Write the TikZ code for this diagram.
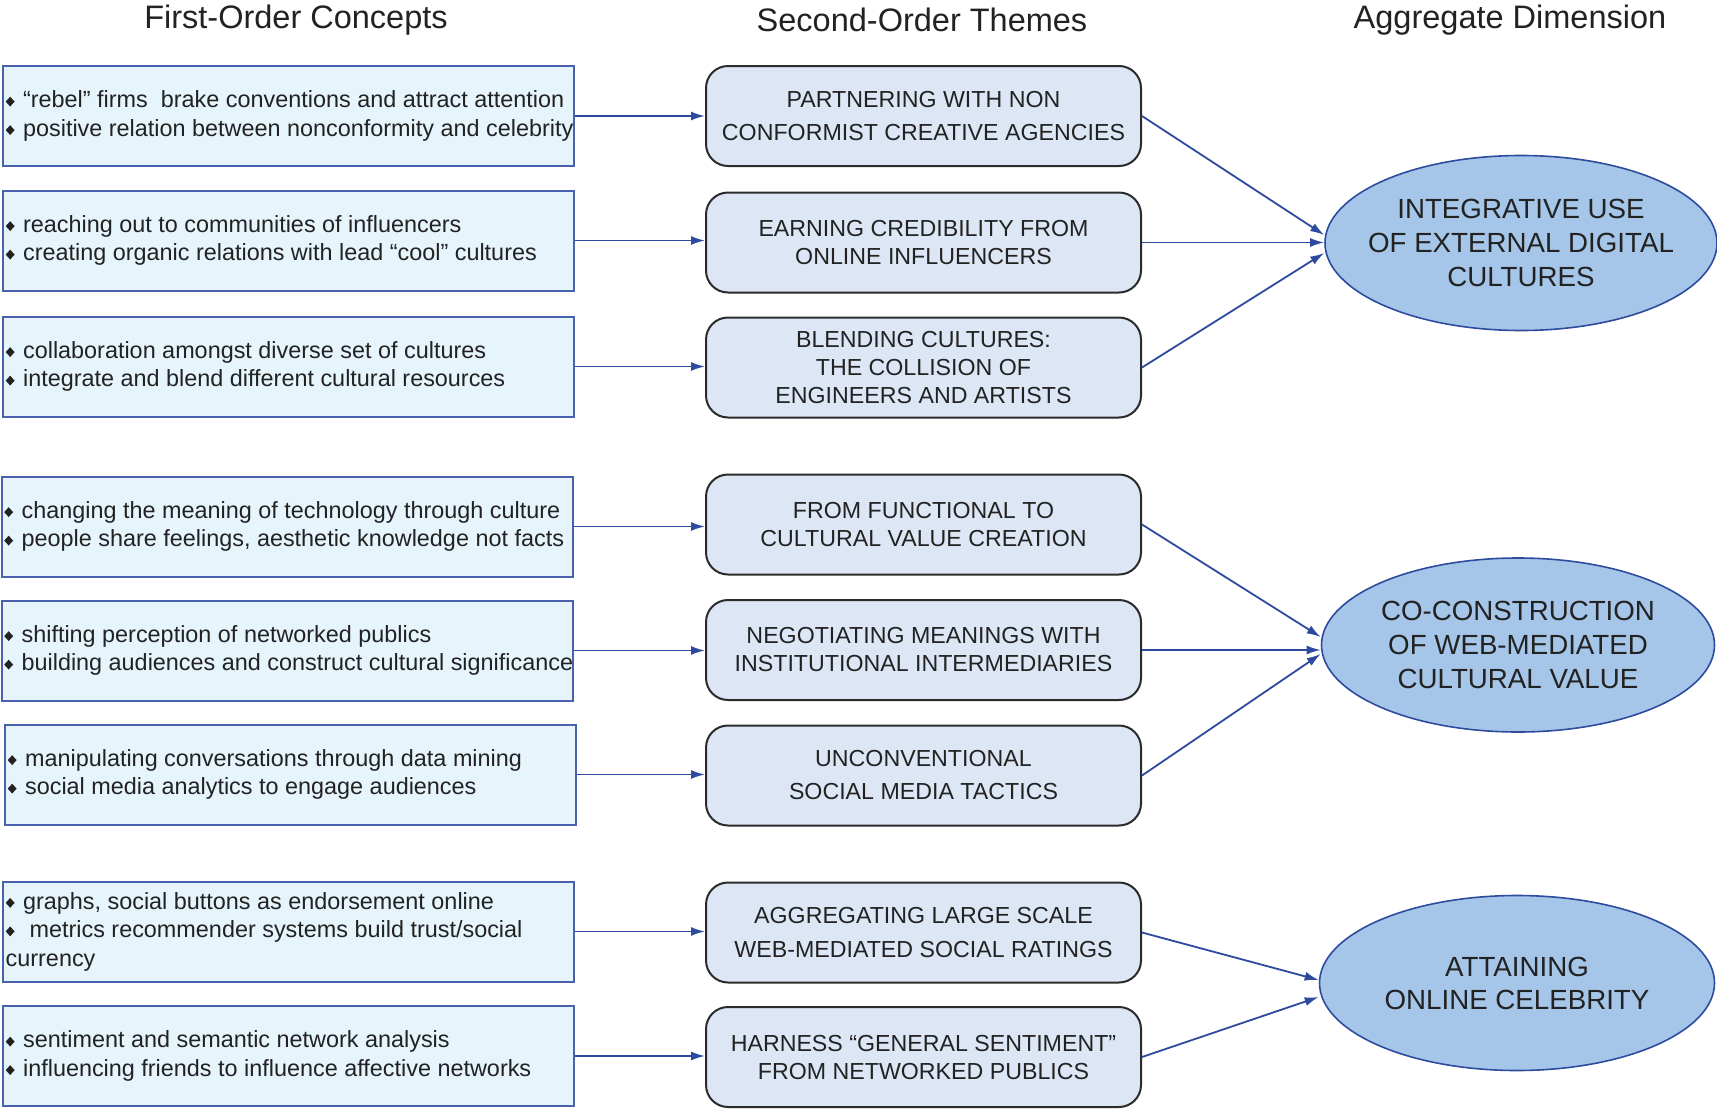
\documentclass[tikz,border=0pt]{standalone}
\usepackage{fontspec}
\setmainfont{Liberation Sans}
\usetikzlibrary{arrows.meta,shapes.geometric}
\definecolor{leftfill}{HTML}{E6F4FC}
\definecolor{leftdraw}{HTML}{4A62AE}
\definecolor{midfill}{HTML}{DCE6F4}
\definecolor{middraw}{HTML}{2B2B2B}
\definecolor{ellfill}{HTML}{A5C6E8}
\definecolor{elldraw}{HTML}{2E4C9E}
\definecolor{arrcol}{HTML}{2E4A9E}
\definecolor{txt}{HTML}{222222}
\newcommand{\bul}{\raisebox{1.3pt}{\scalebox{1}[1.1]{\rotatebox{45}{\rule{6.3pt}{6.3pt}}}}\hspace{8.5pt}}
\begin{document}
\begin{tikzpicture}[x=1pt,y=-1pt,
  leftbox/.style={draw=leftdraw, fill=leftfill, line width=2pt, minimum width=571pt, minimum height=100pt, inner sep=0pt},
  lefttext/.style={anchor=west, align=left, inner sep=0pt, text=txt, font=\fontsize{23.4}{28.5}\selectfont},
  midbox/.style={draw=middraw, fill=midfill, line width=2pt, rounded corners=22pt, minimum width=435pt, minimum height=100pt, inner sep=0pt, align=center, text=txt, font=\fontsize{23.2}{28}\selectfont},
  ellbox/.style={ellipse, draw=elldraw, fill=ellfill, line width=1.6pt, inner sep=0pt},
  elltext/.style={align=center, inner sep=0pt, text=txt, font=\fontsize{27.7}{34}\selectfont},
  header/.style={text=txt, font=\fontsize{32.5}{36}\selectfont, inner sep=0pt},
  arr/.style={draw=arrcol, line width=1.8pt, -{Latex[length=14pt,width=9pt]}}
]
\useasboundingbox (0,0) rectangle (1717,1109);
\fill[white] (0,0) rectangle (1717,1109);

% headers
\node[header] (h1) at (296,20) {First-Order Concepts};
\node[header] (h2) at (922,20) {Second-Order Themes};
\node[header] (h3) at (1510,20) {Aggregate Dimension};

% left boxes
\node[leftbox] (l1) at (288.5,116) {};
\node[lefttext] (t1) at ([xshift=3.5pt]l1.west) {\bul “rebel” firms\ \ brake conventions and attract attention\\\bul positive relation between nonconformity and celebrity};
\node[leftbox] (l2) at (288.5,240.5) {};
\node[lefttext] (t2) at ([xshift=3.5pt]l2.west) {\bul reaching out to communities of influencers\\\bul creating organic relations with lead “cool” cultures};
\node[leftbox] (l3) at (288.5,366.5) {};
\node[lefttext] (t3) at ([xshift=3.5pt]l3.west) {\bul collaboration amongst diverse set of cultures\\\bul integrate and blend different cultural resources};
\node[leftbox] (l4) at (287,526.5) {};
\node[lefttext] (t4) at ([xshift=3.5pt]l4.west) {\bul changing the meaning of technology through culture\\\bul people share feelings, aesthetic knowledge not facts};
\node[leftbox] (l5) at (287,650.5) {};
\node[lefttext] (t5) at ([xshift=3.5pt]l5.west) {\bul shifting perception of networked publics\\\bul building audiences and construct cultural significance};
\node[leftbox] (l6) at (290.5,774.5) {};
\node[lefttext] (t6) at ([xshift=3.5pt]l6.west) {\bul manipulating conversations through data mining\\\bul social media analytics to engage audiences};
\node[leftbox] (l7) at (288.5,931.5) {};
\node[lefttext] (t7) at ([xshift=3.5pt]l7.west) {\bul graphs, social buttons as endorsement online\\\bul\ metrics recommender systems build trust/social\\currency};
\node[leftbox] (l8) at (288.5,1056) {};
\node[lefttext] (t8) at ([xshift=3.5pt]l8.west) {\bul sentiment and semantic network analysis\\\bul influencing friends to influence affective networks};

% middle boxes
\node[midbox, font=\fontsize{23.2}{33}\selectfont] (m1) at (923.5,116) {PARTNERING WITH NON\\CONFORMIST CREATIVE AGENCIES};
\node[midbox] (m2) at (923.5,242.5) {EARNING CREDIBILITY FROM\\ONLINE INFLUENCERS};
\node[midbox] (m3) at (923.5,367.5) {BLENDING CULTURES:\\THE COLLISION OF\\ENGINEERS AND ARTISTS};
\node[midbox] (m4) at (923.5,524.5) {FROM FUNCTIONAL TO\\CULTURAL VALUE CREATION};
\node[midbox] (m5) at (923.5,650) {NEGOTIATING MEANINGS WITH\\INSTITUTIONAL INTERMEDIARIES};
\node[midbox, font=\fontsize{23.2}{33}\selectfont] (m6) at (923.5,775.5) {UNCONVENTIONAL\\SOCIAL MEDIA TACTICS};
\node[midbox, font=\fontsize{23.2}{34}\selectfont] (m7) at (923.5,932.5) {AGGREGATING LARGE SCALE\\WEB-MEDIATED SOCIAL RATINGS};
\node[midbox] (m8) at (923.5,1057) {HARNESS “GENERAL SENTIMENT”\\FROM NETWORKED PUBLICS};

% ellipses
\node[ellbox, minimum width=392pt, minimum height=175pt] (e1) at (1521,243) {};
\node[elltext] (et1) at (e1.center) {INTEGRATIVE USE\\OF EXTERNAL DIGITAL\\CULTURES};
\node[ellbox, minimum width=393pt, minimum height=174pt] (e2) at (1518,645) {};
\node[elltext] (et2) at (e2.center) {CO-CONSTRUCTION\\OF WEB-MEDIATED\\CULTURAL VALUE};
\node[ellbox, minimum width=395pt, minimum height=175pt] (e3) at (1517,983) {};
\node[elltext, font=\fontsize{27.7}{33}\selectfont] (et3) at (e3.center) {ATTAINING\\ONLINE CELEBRITY};

% arrows left -> middle
\foreach \i in {1,...,8}{
  \draw[arr] (l\i.east) -- (l\i.east -| m\i.west);
}
% arrows middle -> aggregate
\draw[arr] (m1.east) -- ([yshift=8pt]e1.west);
\draw[arr] (m2.east) -- (m2.east -| e1.west);
\draw[arr] (m3.east) -- ([yshift=-10pt]e1.west);
\draw[arr] (m4.east) -- ([yshift=8pt]e2.west);
\draw[arr] (m5.east) -- (m5.east -| e2.west);
\draw[arr] (m6.east) -- ([yshift=-9pt]e2.west);
\draw[arr] (m7.east) -- ([yshift=3pt]e3.west);
\draw[arr] (m8.east) -- ([yshift=-14pt]e3.west);
\end{tikzpicture}
\end{document}
